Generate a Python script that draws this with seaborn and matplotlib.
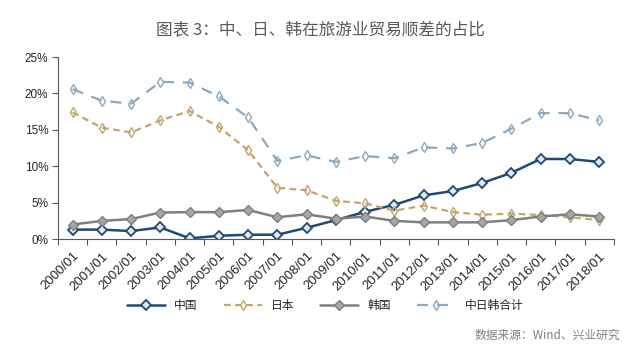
import matplotlib
matplotlib.use("Agg")
import matplotlib.pyplot as plt
import seaborn as sns
import pandas as pd
import numpy as np
from matplotlib.ticker import FixedLocator, FuncFormatter

sns.set_theme(style="white")
plt.rcParams['font.family'] = ['Liberation Sans', 'Noto Sans CJK SC', 'DejaVu Sans']

years = [f"{y}/01" for y in range(2000, 2019)]
china = [1.3, 1.3, 1.1, 1.6, 0.1, 0.45, 0.6, 0.6, 1.55, 2.6, 3.75, 4.7, 6.0, 6.6, 7.7, 9.1, 11.0, 11.0, 10.6]
japan = [17.4, 15.3, 14.65, 16.3, 17.6, 15.4, 12.2, 7.05, 6.7, 5.25, 4.9, 3.9, 4.6, 3.7, 3.35, 3.5, 3.3, 3.0, 2.6]
korea = [2.0, 2.5, 2.75, 3.65, 3.7, 3.7, 4.0, 3.0, 3.4, 2.8, 3.1, 2.5, 2.3, 2.3, 2.3, 2.6, 3.1, 3.4, 3.1]
total = [20.6, 19.0, 18.6, 21.6, 21.5, 19.6, 16.7, 10.75, 11.5, 10.6, 11.4, 11.1, 12.6, 12.45, 13.2, 15.15, 17.3, 17.3, 16.3]
series_names = ["中国", "日本", "韩国", "中日韩合计"]

df = pd.DataFrame({"idx": np.arange(len(years)), "中国": china, "日本": japan,
                   "韩国": korea, "中日韩合计": total})
long = df.melt(id_vars="idx", var_name="series", value_name="value")

fig = plt.figure(figsize=(6.4, 3.48), dpi=100)
ax = fig.add_axes([0.0906, 0.313, 0.8684, 0.523])

styles = {
    "中国": dict(color="#1f4a73", ls="-", lw=1.8, marker="D", ms=5, mfc="#dde8f2", mec="#1f4a73", mew=1.3),
    "日本": dict(color="#c4a46a", ls=(0, (3, 2)), lw=1.6, marker="d", ms=5, mfc="none", mec="#c4a46a", mew=1.0),
    "韩国": dict(color="#7f7f7f", ls="-", lw=1.8, marker="D", ms=5, mfc="#a6a6a6", mec="#7f7f7f", mew=1.0),
    "中日韩合计": dict(color="#8ba9bd", ls=(0, (5, 4)), lw=1.6, marker="d", ms=5, mfc="none", mec="#8ba9bd", mew=1.0),
}

for name in series_names:
    s = styles[name]
    sub = long[long.series == name]
    sns.lineplot(data=sub, x="idx", y="value", ax=ax, color=s["color"], linestyle=s["ls"],
                 linewidth=s["lw"], marker=s["marker"], markersize=s["ms"],
                 markerfacecolor=s["mfc"], markeredgecolor=s["mec"], markeredgewidth=s["mew"],
                 label=name, legend=False)

ax.set_xlim(-0.5, len(years) - 0.5)
ax.set_ylim(0, 25)
ax.set_yticks([0, 5, 10, 15, 20, 25])
ax.yaxis.set_major_formatter(FuncFormatter(lambda v, p: f"{int(v)}%"))
ax.xaxis.set_major_locator(FixedLocator(np.arange(-0.5, len(years), 1.0)))
ax.set_xticklabels([], minor=False)
ax.set_xticks(np.arange(len(years)), minor=True)
ax.set_xticklabels(years, minor=True, rotation=45, ha="right", rotation_mode="anchor",
                   fontsize=9.5, color="#262626")
ax.tick_params(axis="x", which="major", length=4, width=0.8, color="#595959", direction="out", bottom=True)
ax.tick_params(axis="x", which="minor", length=0, pad=8)
ax.tick_params(axis="y", length=4, width=0.8, color="#595959", labelsize=8.5, labelcolor="#262626", left=True, pad=3)
ax.set_xlabel("")
ax.set_ylabel("")
for sp in ["top", "right"]:
    ax.spines[sp].set_visible(False)
for sp in ["left", "bottom"]:
    ax.spines[sp].set_color("#595959")
    ax.spines[sp].set_linewidth(0.8)

handles, labels = ax.get_legend_handles_labels()
fig.legend(handles, labels, loc="center", bbox_to_anchor=(0.508, 0.123), ncol=4, frameon=False,
           prop={"family": ["Noto Sans CJK SC"], "size": 8.5}, handlelength=3.2, columnspacing=2.2,
           labelcolor="#262626")

fig.text(0.5, 0.914, "图表 3：中、日、韩在旅游业贸易顺差的占比", ha="center", va="center",
         fontsize=12, color="#595959", family=["Noto Sans CJK SC"])
fig.text(0.969, 0.037, "数据来源：Wind、兴业研究", ha="right", va="center", fontsize=8.5,
         color="#808080", family=["Noto Sans CJK SC"])

fig.savefig("out.png", dpi=100)
